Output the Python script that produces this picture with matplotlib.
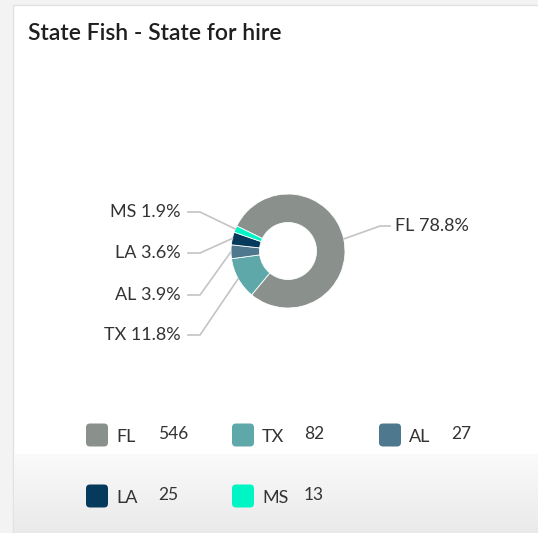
import numpy as np
import matplotlib
matplotlib.use("Agg")
import matplotlib.pyplot as plt
from matplotlib.patches import Rectangle, FancyBboxPatch

# data
states = ["FL", "TX", "AL", "LA", "MS"]
counts = [546, 82, 27, 25, 13]
colors = ["#8a918c", "#5ea8aa", "#4e788e", "#053a5c", "#00f5c4"]
title = "State Fish - State for hire"

W, H = 538, 533
plt.rcParams['font.family'] = ['Lato', 'DejaVu Sans']
fig = plt.figure(figsize=(W / 100, H / 100), dpi=100)
ax = fig.add_axes([0, 0, 1, 1])


def py(y):
    # convert image-style y (from top) to axes y
    return H - y


# page background and card
ax.add_patch(Rectangle((0, 0), W, H, color="#f3f3f3", zorder=0))
ax.add_patch(Rectangle((13, 0), W, py(5), facecolor="white",
                       edgecolor="#e2e2e2", lw=1, zorder=0.5))
grad = np.linspace(0, 1, 80)[:, None]
ax.imshow(grad, extent=(14, W, 0, py(454)), cmap=matplotlib.colors.LinearSegmentedColormap.from_list(
    "g", ["#eaeaea", "#fafafa"]), origin="lower", aspect="auto", zorder=0.6)

ax.text(28, py(34), title, fontsize=16.5, fontweight="semibold", color="#1f1f1f",
        va="center", ha="left")

# donut
cx, cy, r = 288, py(251), 57
total = sum(counts)
start = 154
wedges, _ = ax.pie(counts, colors=colors, startangle=start, counterclock=False,
                   radius=r, center=(cx, cy), wedgeprops=dict(width=r * 0.5, edgecolor="white", lw=0.6))

label_y = {"FL": 226, "MS": 212, "LA": 253, "AL": 295, "TX": 335}
for w, s, c in zip(wedges, states, counts):
    mid = np.deg2rad((w.theta1 + w.theta2) / 2)
    ex, ey = cx + r * np.cos(mid), cy + r * np.sin(mid)
    ly = py(label_y[s])
    pct = f"{s} {100 * c / total:.1f}%"
    if np.cos(mid) > 0:
        ax.plot([ex, 380, 390], [ey, ly, ly], color="#c4c4c4", lw=1.2, zorder=1)
        ax.text(395, ly, pct, fontsize=13, color="#333333", ha="left", va="center")
    else:
        ax.plot([ex, 200, 188], [ey, ly, ly], color="#c4c4c4", lw=1.2, zorder=1)
        ax.text(181, ly, pct, fontsize=13, color="#333333", ha="right", va="center")

# legend
cols_x = [85, 231, 378]
rows_y = [435, 496]
for i, (s, c, col) in enumerate(zip(states, counts, colors)):
    x0 = cols_x[i % 3]
    y0 = py(rows_y[i // 3])
    ax.add_patch(FancyBboxPatch((x0 + 2.5, y0 - 10), 19, 20, boxstyle="round,pad=1.5,rounding_size=4",
                                facecolor=col, edgecolor="none", zorder=2))
    ax.text(x0 + 31, y0 - 2, s, fontsize=13, color="#333333", ha="left", va="center")
    ax.text(x0 + 73, y0 + 1, str(c), fontsize=12.5, color="#333333", ha="left", va="center")

ax.set_xlim(0, W)
ax.set_ylim(0, H)
ax.set_aspect("auto")
ax.axis('off')
fig.savefig("out.png", dpi=100)
